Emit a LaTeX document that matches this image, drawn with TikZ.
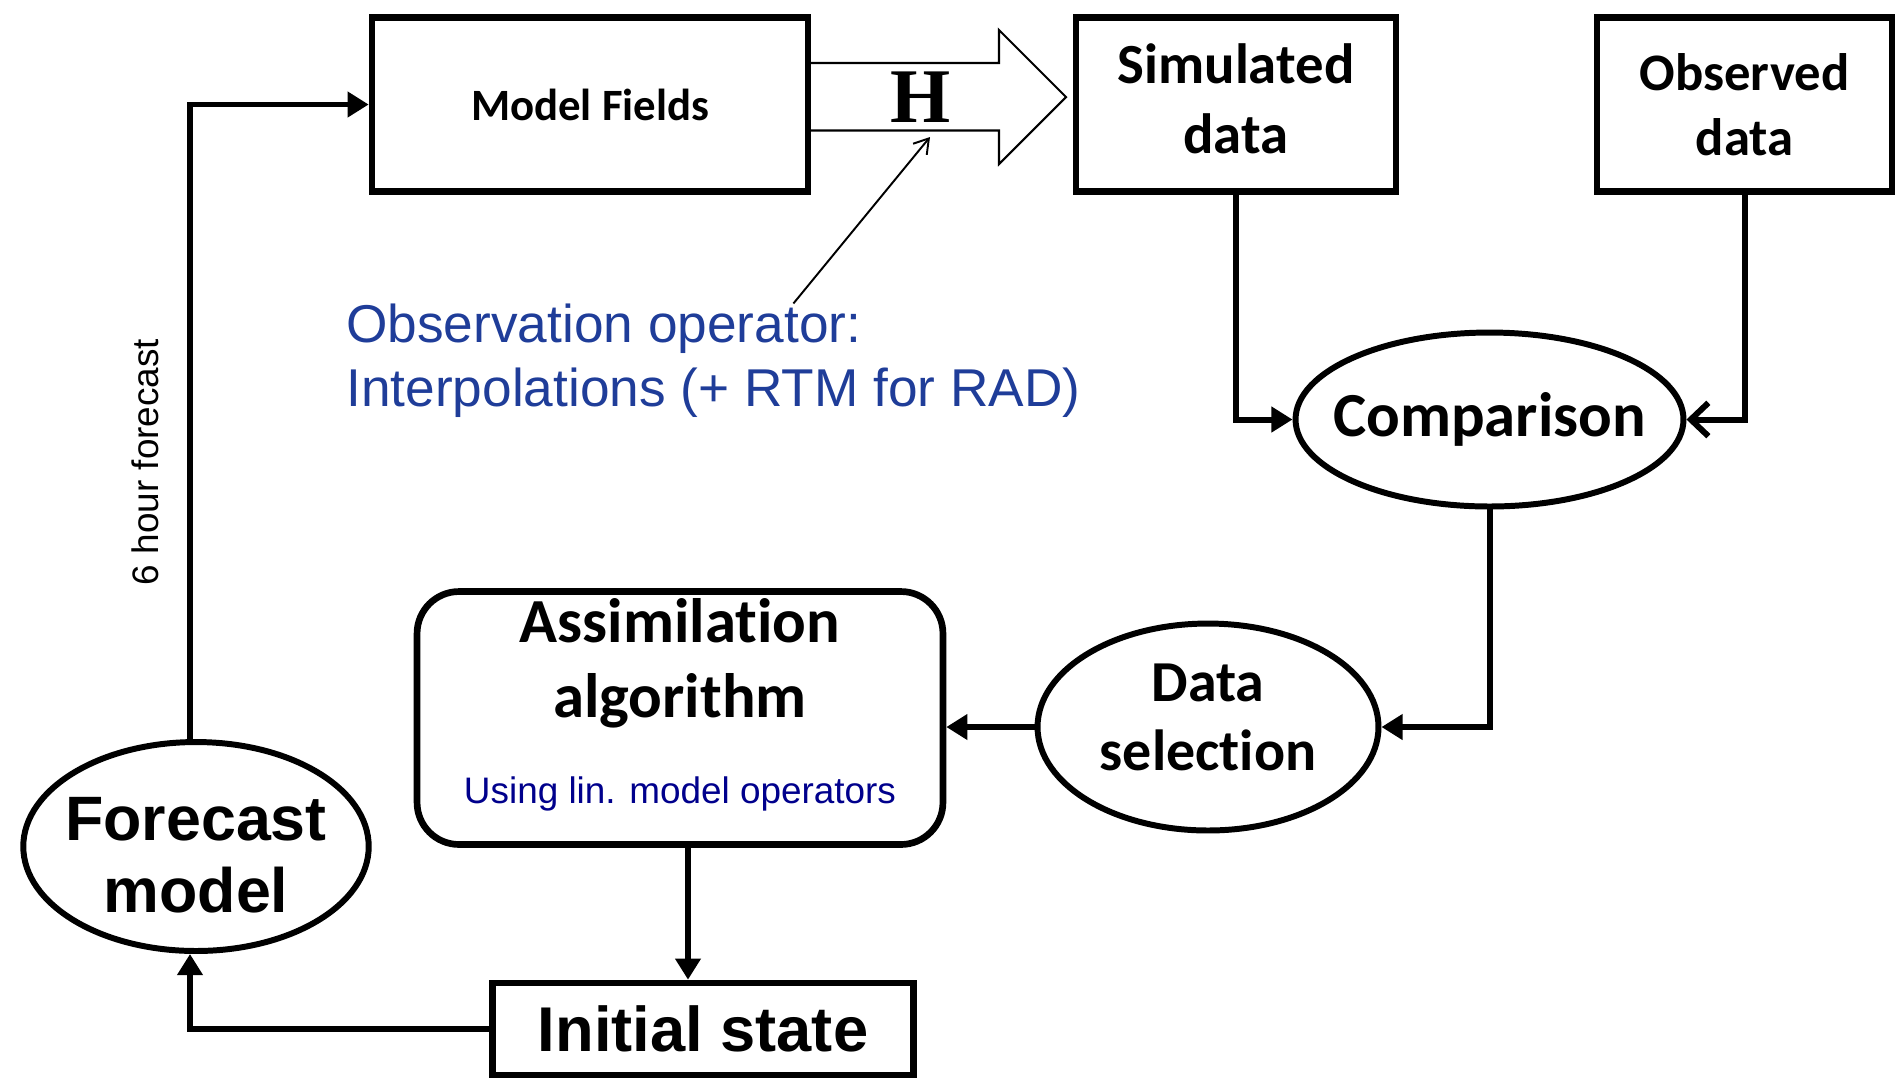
\documentclass[tikz,border=0pt]{standalone}
\usepackage{fontspec}
\usetikzlibrary{arrows.meta,shapes.geometric}
\setmainfont{Carlito}[Ligatures=NoCommon]
\newfontfamily\arialfont{Liberation Sans}
\newfontfamily\timesfont{Liberation Serif}
\definecolor{ObsBlue}{HTML}{1F3D99}
\definecolor{LinBlue}{HTML}{00008C}

\begin{document}
\begin{tikzpicture}[x=0.02cm,y=-0.02cm,
  box/.style={draw,line width=3.8pt,inner sep=0pt,align=center,font=\bfseries},
  oval/.style={draw,ellipse,line width=3.4pt,inner xsep=-1cm,inner ysep=-1cm,
    align=center,font=\bfseries},
  flow/.style={-{Triangle[length=12pt,width=14pt]},line width=3.4pt},
  barb/.style={-{Straight Barb[length=10pt,width=19pt]},line width=3.4pt},
  hollow/.style={line width=1.2pt,line join=miter},
  thinarr/.style={-{Straight Barb[length=8pt,width=10pt]},line width=1.1pt},
  obs/.style={ObsBlue,inner sep=0pt,align=left,
    font=\arialfont\fontsize{30.3}{36.3}\selectfont}]
  \useasboundingbox (0,0) rectangle (1895,1080);
  % boxes along the top
  \node[box,minimum width=8.72cm,minimum height=3.48cm,
    font=\bfseries\fontsize{25.5}{30}\selectfont] (MF) at (590,104.5) {Model Fields};
  \node[box,minimum width=6.4cm,minimum height=3.48cm,
    font=\bfseries\fontsize{32.3}{40.2}\selectfont] (SD) at (1236,104.5)
    {Simulated\\data\rule[-0.24cm]{0pt}{0.24cm}};
  \node[box,minimum width=5.9cm,minimum height=3.48cm,
    font=\bfseries\fontsize{30}{37}\selectfont] (OD) at (1744.5,104.5) {Observed\\data};
  % ovals
  \node[oval,minimum width=7.76cm,minimum height=3.48cm,
    font=\bfseries\fontsize{35.7}{42}\selectfont] (CMP) at (1489.5,419.5) {Comparison};
  \node[oval,minimum width=6.82cm,minimum height=4.14cm,
    font=\bfseries\fontsize{33}{39}\selectfont] (DS) at (1208,727)
    {Data\\selection\rule[-0.4cm]{0pt}{0.4cm}};
  \node[oval,minimum width=6.91cm,minimum height=4.18cm,
    font=\arialfont\bfseries\fontsize{35.7}{41}\selectfont] (FM) at (196,846.5)
    {\rule{0pt}{1.22cm}Forecast\\model};
  % assimilation and initial state
  \node[box,rounded corners=0.84cm,minimum width=10.52cm,minimum height=5.06cm,
    font=\bfseries\fontsize{35.7}{43}\selectfont] (AA) at (680,718)
    {Assimilation\\algorithm\\[5.8pt]{\mdseries\arialfont\fontsize{21}{25}\selectfont
    \color{LinBlue}Using lin. model operators}\rule[-0.68cm]{0pt}{0.68cm}};
  \node[box,minimum width=8.42cm,minimum height=1.84cm,
    font=\arialfont\bfseries\fontsize{36}{42}\selectfont] (IS) at (703,1029) {Initial state};
  % observation operator H
  \draw[hollow] (811,63) -- (999,63) -- (999,30) -- (1066,97)
    -- (999,164) -- (999,130.5) -- (811,130.5);
  \node[font=\timesfont\bfseries\fontsize{44}{50}\selectfont,inner sep=0pt] (H) at (921,97) {H};
  \node[obs,anchor=west] (OBS) at (346,360.5)
    {Observation operator:\\Interpolations (+ RTM for RAD)};
  \coordinate (Hin) at (930,137);
  \draw[thinarr] ([xshift=1.6cm]OBS.north) -- (Hin);
  \node[rotate=90,inner sep=0pt,font=\arialfont\fontsize{21}{25}\selectfont] (lbl)
    at (145,462) {6 hour forecast};
  % connectors
  \draw[flow] ([xshift=-0.12cm]FM.north) |- (MF.west);
  \draw[flow] (SD.south) |- (CMP.west);
  \draw[barb] (OD.south) |- (CMP.east);
  \draw[flow] (CMP.south) |- (DS.east);
  \draw[flow] (DS.west) -- (DS.west -| AA.east);
  \draw[flow] ([xshift=0.16cm]AA.south) -- ([xshift=0.16cm]AA.south |- IS.north);
  \draw[flow] (IS.west) -| ([xshift=-0.12cm]FM.south);
\end{tikzpicture}
\end{document}
